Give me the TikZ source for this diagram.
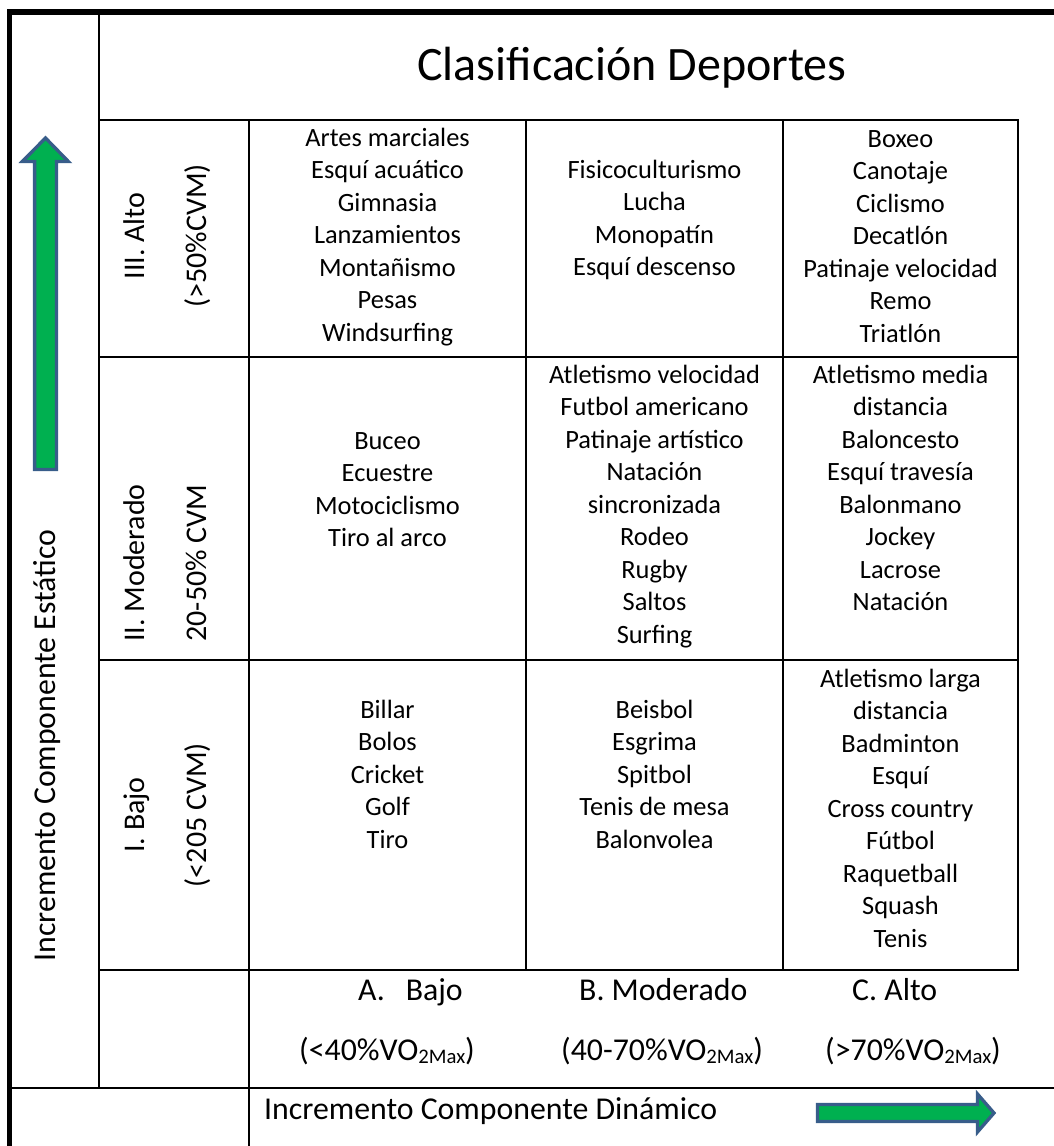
\documentclass[tikz,border=0pt]{standalone}
\usepackage{fontspec}
\setmainfont{Carlito}
\definecolor{arrowgreen}{RGB}{0,176,80}
\definecolor{arrowedge}{RGB}{56,93,138}
\newcommand\vomax{VO\raisebox{-0.1em}{\fontsize{20.7}{22}\selectfont 2Max}}
\begin{document}
\begin{tikzpicture}[x=1pt,y=-1pt,
  grid/.style={line width=2.3pt, line cap=rect},
  frame/.style={line width=5.7pt, line join=miter},
  body/.style={font=\fontsize{26.4}{32.5}\selectfont, align=center, inner sep=0pt, anchor=north},
  lab/.style={font=\fontsize{30}{36}\selectfont, inner sep=0pt},
  biglab/.style={font=\fontsize{31.8}{38}\selectfont, inner sep=0pt},
  fat/.style={fill=arrowgreen, draw=arrowedge, line width=3.3pt, line join=miter}
]
\useasboundingbox (0,0) rectangle (1054,1146);

% outer frame (top and left)
\draw[frame] (9.5,1146) -- (9.5,12) -- (1054,12);

% grid lines
\draw[grid] (99,12) -- (99,1088);
\draw[grid] (249,120) -- (249,1146);
\draw[grid] (99,120) -- (1018,120);
\draw[grid] (99,357) -- (1018,357);
\draw[grid] (99,660) -- (1018,660);
\draw[grid] (99,970) -- (1018,970);
\draw[grid] (9.5,1088) -- (1054,1088);
\draw[grid] (526,120) -- (526,970);
\draw[grid] (783,120) -- (783,970);
\draw[grid] (1018,120) -- (1018,970);

% title
\node[font=\fontsize{48}{58}\selectfont, inner sep=0pt, anchor=base] (title) at (632,80) {Clasificación Deportes};

% vertical axis label
\node[biglab, rotate=90, anchor=base] (ylab) at (55,745.5) {Incremento Componente Estático};

% row labels
\node[lab, rotate=90, anchor=base] (r3a) at (144.5,236) {III. Alto};
\node[lab, rotate=90, anchor=base] (r3b) at (206.5,236) {(>50\%CVM)};
\node[lab, rotate=90, anchor=base] (r2a) at (144.5,563) {II. Moderado};
\node[lab, rotate=90, anchor=base] (r2b) at (206.5,563) {20-50\% CVM};
\node[lab, rotate=90, anchor=base] (r1a) at (144.5,815) {I. Bajo};
\node[lab, rotate=90, anchor=base] (r1b) at (206.5,815) {(<205 CVM)};

% cells row III
\node[body] (c31) at (387.5,123.25) {\strut Artes marciales\\Esquí acuático\\Gimnasia\\Lanzamientos\\Montañismo\\Pesas\\Windsurfing};
\node[body] (c32) at (654.5,155.25) {\strut Fisicoculturismo\\Lucha\\Monopatín\\Esquí descenso};
\node[body] (c33) at (900.5,124.25) {\strut Boxeo\\Canotaje\\Ciclismo\\Decatlón\\Patinaje velocidad\\Remo\\Triatlón};

% cells row II
\node[body] (c21) at (387.5,426.25) {\strut Buceo\\Ecuestre\\Motociclismo\\Tiro al arco};
\node[body] (c22) at (654.5,360.25) {\strut Atletismo velocidad\\Futbol americano\\Patinaje artístico\\Natación\\sincronizada\\Rodeo\\Rugby\\Saltos\\Surfing};
\node[body] (c23) at (900.5,360.25) {\strut Atletismo media\\distancia\\Baloncesto\\Esquí travesía\\Balonmano\\Jockey\\Lacrose\\Natación};

% cells row I
\node[body] (c11) at (387.5,695.25) {\strut Billar\\Bolos\\Cricket\\Golf\\Tiro};
\node[body] (c12) at (654.5,695.25) {\strut Beisbol\\Esgrima\\Spitbol\\Tenis de mesa\\Balonvolea};
\node[body] (c13) at (900.5,664.25) {\strut Atletismo larga\\distancia\\Badminton\\Esquí\\Cross country\\Fútbol\\Raquetball\\Squash\\Tenis};

% column labels
\node[biglab, anchor=base west] (ca) at (358,1000) {A.\hspace{21pt}Bajo};
\node[biglab, anchor=base west] (cb) at (579,1000) {B. Moderado};
\node[biglab, anchor=base west] (cc) at (852,1000) {C. Alto};
\node[biglab, anchor=base west] (pa) at (299,1060) {(<40\%\vomax)};
\node[biglab, anchor=base west] (pb) at (561,1060) {(40-70\%\vomax)};
\node[biglab, anchor=base west] (pc) at (825,1060) {(>70\%\vomax)};

% horizontal axis label
\node[biglab, anchor=base west] (xlab) at (264,1119) {Incremento Componente Dinámico};

% block arrows
\draw[fat] (34.6,469.4) -- (34.6,161.5) -- (22.3,161.5) -- (45.5,138) -- (68.4,161.5) -- (56.4,161.5) -- (56.4,469.4) -- cycle;
\draw[fat] (817.5,1104.5) -- (977.5,1104.5) -- (977.5,1094) -- (994,1113) -- (977.5,1132) -- (977.5,1121.5) -- (817.5,1121.5) -- cycle;
\end{tikzpicture}
\end{document}
